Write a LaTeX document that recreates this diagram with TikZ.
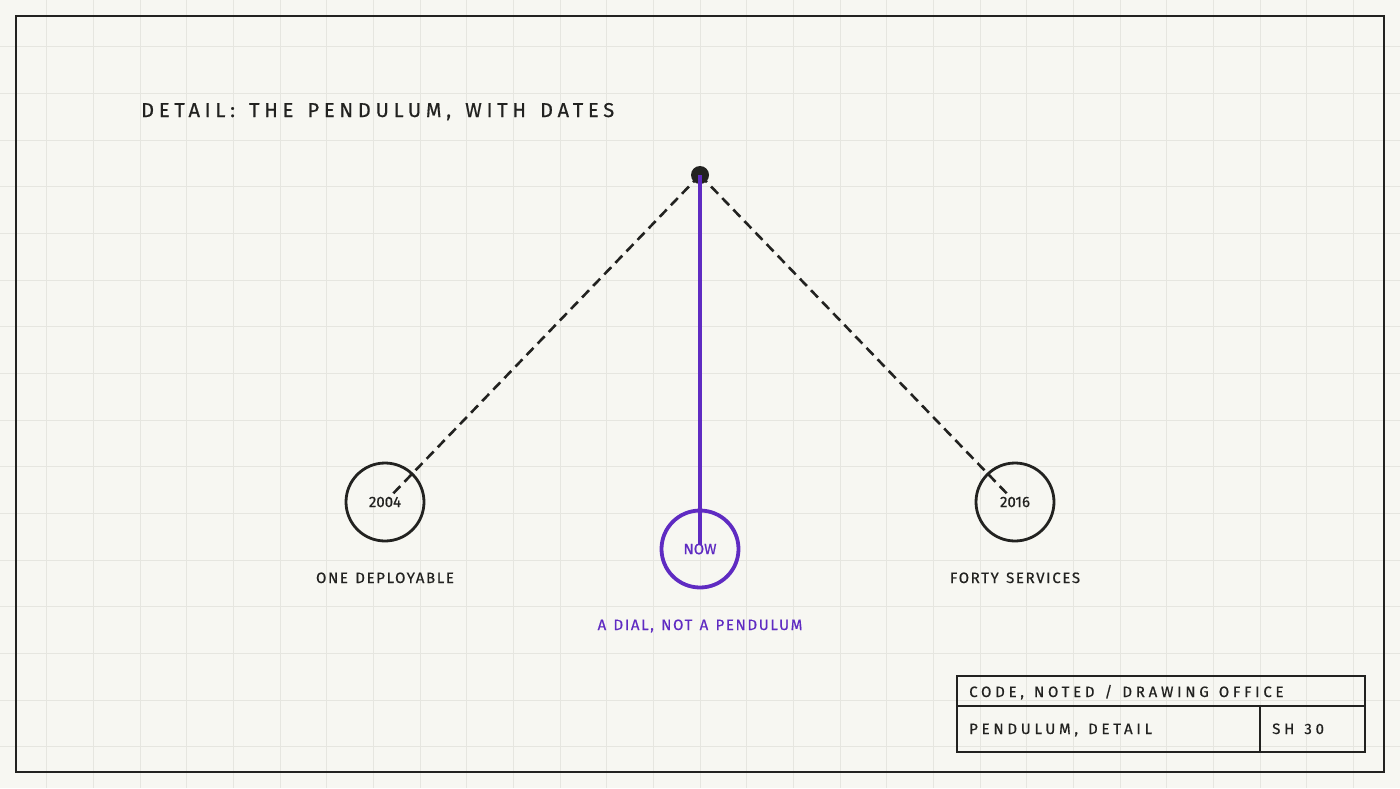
\documentclass[tikz,border=0pt]{standalone}
\usepackage{fontspec}
\setmainfont[FakeBold=0.6]{Fira Sans}
\newfontfamily\titlefont[LetterSpace=24,WordSpace=1.4,FakeBold=0.6]{Fira Sans}
\newfontfamily\labelfont[LetterSpace=11,WordSpace=1.3,FakeBold=0.6]{Fira Sans}
\newfontfamily\blockfont[LetterSpace=25,WordSpace=1.3,FakeBold=0.6]{Fira Sans}
\newfontfamily\datefont[FakeBold=0.6]{Fira Sans}
\definecolor{paper}{HTML}{F7F7F2}
\definecolor{gridc}{HTML}{E6E6E0}
\definecolor{ink}{HTML}{222220}
\definecolor{violet}{HTML}{5F2BC2}
\begin{document}
\begin{tikzpicture}[x=1pt,y=-1pt,
  frame/.style={draw=ink,line width=2.8pt},
  datec/.style={circle,draw=ink,line width=2.8pt,minimum size=78pt,inner sep=0pt,font=\datefont\fontsize{15}{15}\selectfont,text=ink},
  nowc/.style={circle,draw=violet,line width=3.8pt,minimum size=77pt,inner sep=0pt,font=\datefont\fontsize{15}{15}\selectfont,text=violet},
  swing/.style={draw=ink,line width=2.6pt,dash pattern=on 10pt off 6pt},
  rod/.style={draw=violet,line width=4pt},
  lbl/.style={font=\labelfont\fontsize{15}{15}\selectfont,text=ink,anchor=base},
  blk/.style={font=\blockfont\fontsize{15}{15}\selectfont,text=ink,anchor=base west}]
\fill[paper] (0,0) rectangle (1400,788);
\useasboundingbox (0,0) rectangle (1400,788);
\foreach \i in {1,...,29} \draw[gridc,line width=1pt] (\i*46.667,0) -- (\i*46.667,788);
\foreach \j in {1,...,16} \draw[gridc,line width=1pt] (0,\j*46.667) -- (1400,\j*46.667);
\draw[frame] (16,16) rectangle (1384,772);
\node[font=\titlefont\fontsize{20}{20}\selectfont,text=ink,anchor=base west,inner sep=0pt] (title) at (141,117) {DETAIL: THE PENDULUM, WITH DATES};
\node[datec] (c1) at (385,502) {\raisebox{-2pt}{2004}};
\node[datec] (c3) at (1015,502) {\raisebox{-2pt}{2016}};
\node[nowc] (c2) at (700,549) {\raisebox{-2pt}{NOW}};
\node[circle,fill=ink,minimum size=18pt,inner sep=0pt] (pivot) at (700,175) {};
\draw[swing,shorten >=5pt] (pivot.center) -- (c1.center);
\draw[swing,shorten >=5pt] (pivot.center) -- (c3.center);
\draw[rod,shorten >=4pt] (pivot.center) -- (c2.center);
\node[lbl] (l1) at (385,583) {ONE DEPLOYABLE};
\node[lbl] (l3) at (1015,583) {FORTY SERVICES};
\node[lbl,text=violet] (l2) at (700,630) {A DIAL, NOT A PENDULUM};
\draw[frame] (957,676) rectangle (1365,752);
\draw[frame] (957,706) -- (1365,706);
\draw[frame] (1260,706) -- (1260,752);
\node[blk,inner sep=0pt] (b1) at (969,697) {CODE, NOTED / DRAWING OFFICE};
\node[blk,inner sep=0pt] (b2) at (969,734) {PENDULUM, DETAIL};
\node[blk,inner sep=0pt] (b3) at (1272,734) {SH 30};
\end{tikzpicture}
\end{document}
